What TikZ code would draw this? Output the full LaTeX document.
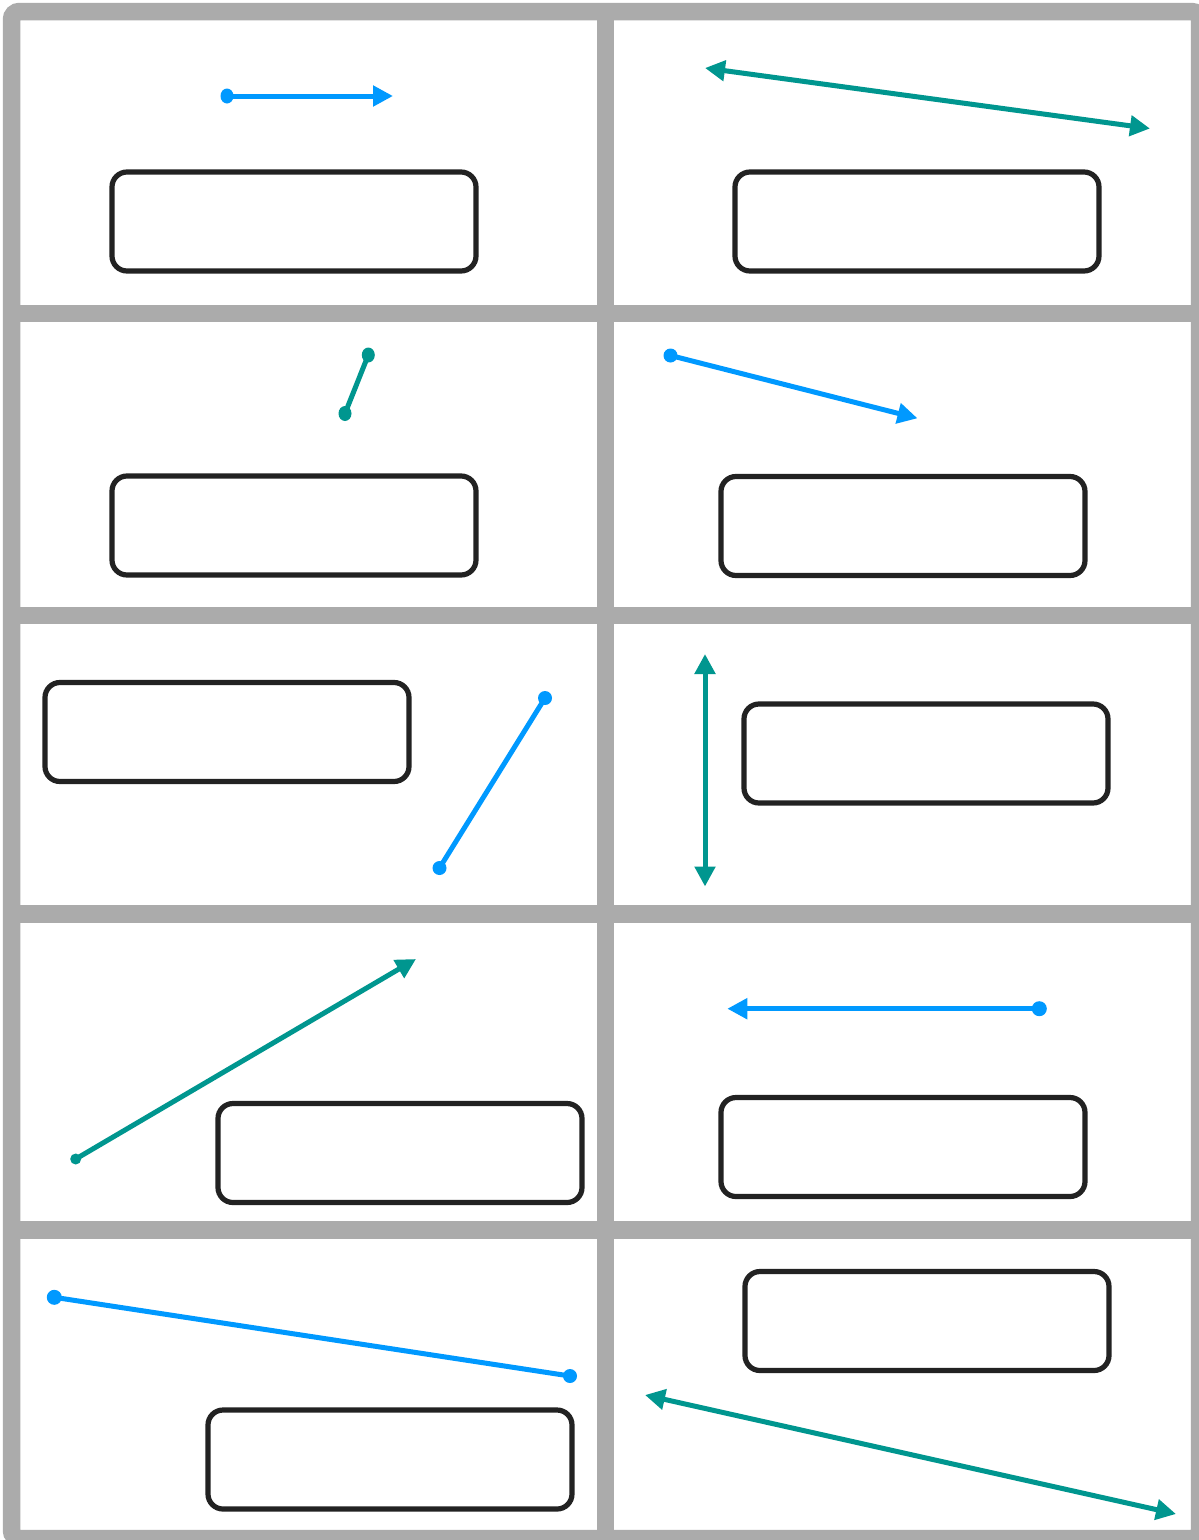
\documentclass[tikz,border=0pt]{standalone}
\usetikzlibrary{arrows.meta}
\definecolor{gridgray}{HTML}{ABABAB}
\definecolor{tealc}{RGB}{0,150,143}
\definecolor{bluec}{RGB}{0,153,255}
\definecolor{boxc}{HTML}{222222}
\begin{document}
\begin{tikzpicture}[x=1pt,y=-1pt,
  panelbox/.style={draw=boxc,line width=5.2pt,rounded corners=15pt,minimum width=364pt,minimum height=99pt,inner sep=0pt},
  conn/.style={line width=5pt},
  headtip/.style={-{Triangle[length=20pt,width=20pt]}},
  bothtip/.style={{Triangle[length=20pt,width=20pt]}-{Triangle[length=20pt,width=20pt]}},
  gridline/.style={draw=gridgray,line width=17.5pt}
]
\useasboundingbox (0,0) rectangle (1199,1540);
\clip (0,0) rectangle (1199,1540);
\fill[white] (0,0) rectangle (1199,1540);
% grid
\draw[gridline,rounded corners=8pt] (11.5,11.5) rectangle (1199.5,1538.5);
\draw[gridline] (605.5,11.5) -- (605.5,1538.5);
\foreach \yy in {313.3,615.3,914,1230} {\draw[gridline] (11.5,\yy) -- (1199.5,\yy);}
% boxes
\node[panelbox] (b1) at (294,221.5) {};
\node[panelbox] (b2) at (917,221.5) {};
\node[panelbox] (b3) at (294,525.5) {};
\node[panelbox] (b4) at (903,526) {};
\node[panelbox] (b5) at (227,732) {};
\node[panelbox] (b6) at (926,753.5) {};
\node[panelbox] (b7) at (400,1153) {};
\node[panelbox] (b8) at (903,1147) {};
\node[panelbox] (b9) at (390,1459.5) {};
\node[panelbox] (b10) at (927,1321) {};
% endpoints
\coordinate (a1s) at (227,96);   \coordinate (a1e) at (393,96);
\coordinate (a2s) at (705,68);   \coordinate (a2e) at (1150,128.5);
\coordinate (a3s) at (368.3,355); \coordinate (a3e) at (345,413.5);
\coordinate (a4s) at (670.5,355.5); \coordinate (a4e) at (917.5,418.3);
\coordinate (a5s) at (545,698);  \coordinate (a5e) at (439.5,868);
\coordinate (a6s) at (705,654);  \coordinate (a6e) at (705,886.5);
\coordinate (a7s) at (75.7,1159); \coordinate (a7e) at (416,959);
\coordinate (a8s) at (1039.3,1008.7); \coordinate (a8e) at (727.3,1008.7);
\coordinate (a9s) at (54.3,1297.3); \coordinate (a9e) at (570,1376);
\coordinate (a10s) at (645,1395); \coordinate (a10e) at (1176,1514);
% connectors
\draw[conn,bluec,headtip] (a1s) -- (a1e);
\fill[bluec] (a1s) ellipse [x radius=6.5, y radius=7.5];
\draw[conn,tealc,bothtip] (a2s) -- (a2e);
\draw[conn,tealc] (a3s) -- (a3e);
\fill[tealc] (a3s) ellipse [x radius=6.5, y radius=7.5];
\fill[tealc] (a3e) ellipse [x radius=6.5, y radius=7.5];
\draw[conn,bluec,headtip] (a4s) -- (a4e);
\fill[bluec] (a4s) circle (7);
\draw[conn,bluec] (a5s) -- (a5e);
\fill[bluec] (a5s) circle (7);
\fill[bluec] (a5e) circle (7);
\draw[conn,tealc,bothtip] (a6s) -- (a6e);
\draw[conn,tealc,headtip] (a7s) -- (a7e);
\fill[tealc] (a7s) circle (5.5);
\draw[conn,bluec,headtip] (a8s) -- (a8e);
\fill[bluec] (a8s) circle (7.5);
\draw[conn,bluec] (a9s) -- (a9e);
\fill[bluec] (a9s) circle (7.5);
\fill[bluec] (a9e) circle (7);
\draw[conn,tealc,bothtip] (a10s) -- (a10e);
\end{tikzpicture}
\end{document}
